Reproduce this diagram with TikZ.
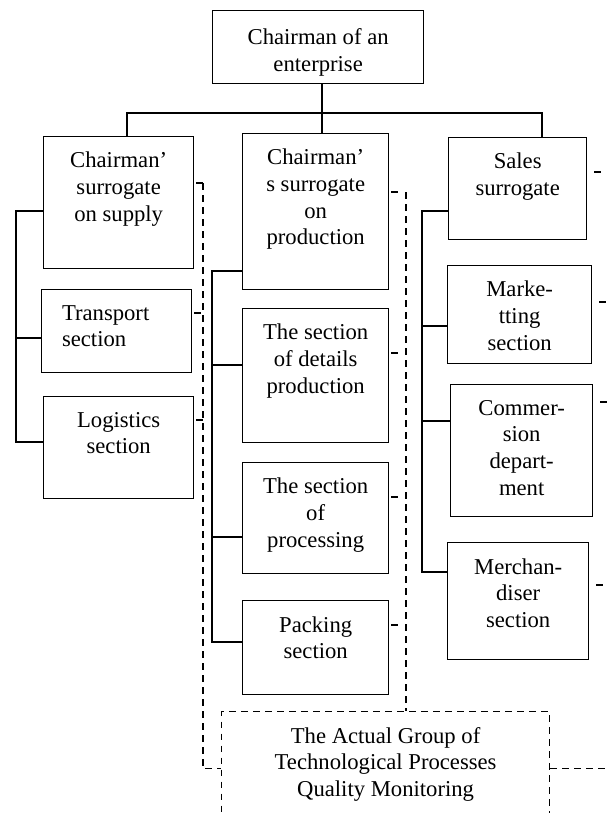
\documentclass[tikz,border=0pt]{standalone}
\usepackage{fontspec}
\setmainfont{Liberation Serif}

\tikzset{
    post/.style 2 args={draw, line width=1pt, anchor=north west, inner sep=0pt,
        minimum width=#1*0.75pt, minimum height=#2*0.75pt},
    boxtext/.style={anchor=north, align=center, inner xsep=0pt, inner ysep=12pt,
        font=\fontsize{17}{20}\selectfont},
    link/.style={line width=1pt},
    watch/.style={line width=0.9pt, dash pattern=on 5pt off 4pt},
    stub/.style={line width=0.9pt, dash pattern=on 0pt off 1.5pt on 5pt off 20pt},
    farstub/.style={line width=0.9pt, dash pattern=on 0pt off 5pt on 5pt off 40pt}
}

\begin{document}
\begin{tikzpicture}[x=0.75pt, y=-0.75pt]
            \useasboundingbox (0,0) rectangle (609,813);

            % Head of the enterprise
            \node[post={211}{73}, label={[boxtext, inner ysep=14pt]90:{Chairman of an\\enterprise}}] (chair) at (212,10) {};

            % Surrogates
            \node[post={150}{132}, label={[boxtext]90:{Chairman'\\surrogate\\on supply}}] (supply) at (43,136) {};
            \node[post={146}{156}, label={[boxtext]90:{Chairman'\\s surrogate\\on\\production}}] (prod) at (242,133) {};
            \node[post={138}{102}, label={[boxtext]90:{Sales\\surrogate}}] (sales) at (448,137) {};

            % Supply sections
            \node[post={150}{83}, label={[boxtext, align=left, xshift=-8.25pt]90:{Transport\\section}}] (transport) at (41,289) {};
            \node[post={150}{102}, label={[boxtext]90:{Logistics\\section}}] (logistics) at (43,396) {};

            % Production sections
            \node[post={146}{134}, label={[boxtext]90:{The section\\of details\\production}}] (details) at (242,308) {};
            \node[post={146}{111}, label={[boxtext]90:{The section\\of\\processing}}] (processing) at (242,462) {};
            \node[post={146}{94}, label={[boxtext]90:{Packing\\section}}] (packing) at (242,600) {};

            % Sales sections
            \node[post={144}{98}, label={[boxtext]90:{Marke-\\tting\\section}}] (marketing) at (447,265) {};
            \node[post={142}{132}, label={[boxtext]90:{Commer-\\sion\\depart-\\ment}}] (commersion) at (450,384) {};
            \node[post={141}{117}, label={[boxtext]90:{Merchan-\\diser\\section}}] (merchandiser) at (447,542) {};

            % Quality monitoring group (runs off the page)
            \node[post={328}{114}, watch, label={[boxtext]90:{The Actual Group of\\Technological Processes\\Quality Monitoring}}] (group) at (221,711) {};

            % Joints of the solid lines
            \coordinate (busL) at (127,113);
            \coordinate (bus) at (322,113);
            \coordinate (busR) at (542,113);
            \coordinate (sSup) at (16,211);
            \coordinate (sTra) at (16,338);
            \coordinate (sLog) at (16,442);
            \coordinate (mProd) at (212,271);
            \coordinate (mDet) at (212,365);
            \coordinate (mProc) at (212,537);
            \coordinate (mPack) at (212,642);
            \coordinate (rSal) at (422,211);
            \coordinate (rMar) at (422,326);
            \coordinate (rCom) at (422,421);
            \coordinate (rMer) at (422,572);

            % Subordination
            \draw[link] (chair.south -| bus) -- (prod.north -| bus);
            \draw[link] (supply.north -| busL) -- (busL) -- (busR) -- (sales.north -| busR);
            \draw[link] (supply.west |- sSup) -- (sSup) -- (sLog) -- (logistics.west |- sLog);
            \draw[link] (sTra) -- (transport.west |- sTra);
            \draw[link] (prod.west |- mProd) -- (mProd) -- (mPack) -- (packing.west |- mPack);
            \draw[link] (mDet) -- (details.west |- mDet);
            \draw[link] (mProc) -- (processing.west |- mProc);
            \draw[link] (sales.west |- rSal) -- (rSal) -- (rMer) -- (merchandiser.west |- rMer);
            \draw[link] (rMar) -- (marketing.west |- rMar);
            \draw[link] (rCom) -- (commersion.west |- rCom);

            % Quality links (dashed)
            \coordinate (dL) at (203,183);
            \coordinate (dM) at (406,192);
            \coordinate (rim) at (609,0);
            \draw[watch] (dL) |- (group.west);
            \draw[stub] (supply.east |- dL) -- (dL);
            \draw[stub] (transport.east |- 0,313) -- (dL |- 0,313);
            \draw[stub] (logistics.east |- 0,420) -- (dL |- 0,420);
            \draw[watch] (dM) -- (group.north -| dM);
            \draw[stub] (prod.east |- dM) -- (dM);
            \draw[stub] (details.east |- 0,353) -- (dM |- 0,353);
            \draw[stub] (processing.east |- 0,497) -- (dM |- 0,497);
            \draw[stub] (packing.east |- 0,625) -- (dM |- 0,625);
            \draw[farstub] (sales.east |- 0,172) -- (rim |- 0,172);
            \draw[farstub] (marketing.east |- 0,302) -- (rim |- 0,302);
            \draw[farstub] (commersion.east |- 0,402) -- (rim |- 0,402);
            \draw[farstub] (merchandiser.east |- 0,585) -- (rim |- 0,585);
            \draw[watch] (group.east) -- (rim |- group.east);
\end{tikzpicture}
\end{document}
